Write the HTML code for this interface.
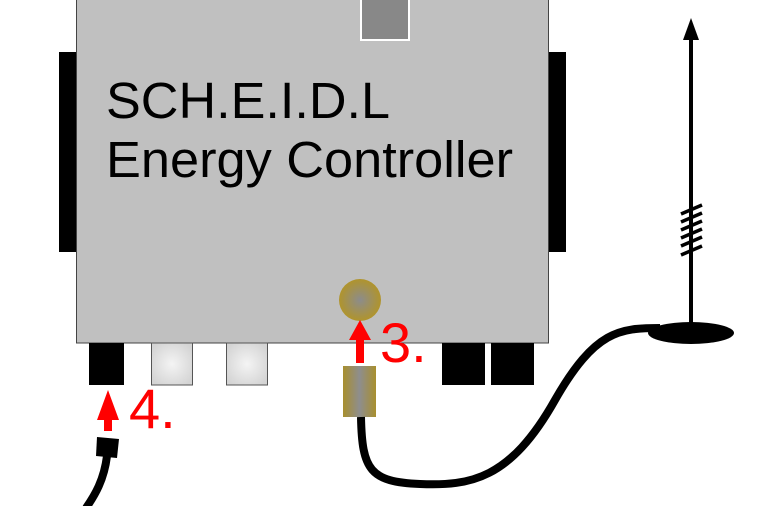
<!DOCTYPE html>
<html><head><meta charset="utf-8"><style>html,body{margin:0;padding:0;background:#fff}svg{display:block}</style></head>
<body>
<svg width="769" height="506" viewBox="0 0 769 506" xmlns="http://www.w3.org/2000/svg">
<defs>
<radialGradient id="sq" cx="50%" cy="50%" r="60%"><stop offset="0" stop-color="#f4f4f4"/><stop offset="1" stop-color="#d4d4d4"/></radialGradient>
<radialGradient id="br" cx="50%" cy="50%" r="50%"><stop offset="0" stop-color="#8c8c8c"/><stop offset="1" stop-color="#b0942c"/></radialGradient>
<linearGradient id="bl" x1="0" x2="1" y1="0" y2="0"><stop offset="0" stop-color="#a88f2e"/><stop offset="0.5" stop-color="#8e8e8e"/><stop offset="1" stop-color="#a88f2e"/></linearGradient>
</defs>
<rect x="59" y="52" width="18" height="200" fill="#000"/>
<rect x="548" y="52" width="18" height="200" fill="#000"/>
<rect x="76.5" y="-2" width="472" height="345" fill="#c0c0c0" stroke="#444" stroke-width="1"/>
<rect x="361" y="-2" width="48" height="42" fill="#888" stroke="#fff" stroke-width="2"/>
<text x="106" y="118" font-family="Liberation Sans, sans-serif" font-size="51" textLength="284" lengthAdjust="spacingAndGlyphs">SCH.E.I.D.L</text>
<text x="106" y="177" font-family="Liberation Sans, sans-serif" font-size="51" textLength="407" lengthAdjust="spacingAndGlyphs">Energy Controller</text>
<circle cx="360" cy="300" r="21" fill="url(#br)"/>
<rect x="89" y="343" width="35" height="42" fill="#000"/>
<rect x="151.5" y="343" width="41" height="42" fill="url(#sq)" stroke="#555" stroke-width="1"/>
<rect x="226.5" y="343" width="41" height="42" fill="url(#sq)" stroke="#555" stroke-width="1"/>
<rect x="442" y="343" width="43" height="42" fill="#000"/>
<rect x="491" y="343" width="43" height="42" fill="#000"/>
<polygon points="360,320 349,340 356,340 356,363 364,363 364,340 371,340" fill="#f00"/>
<text x="380" y="362" font-family="Liberation Sans, sans-serif" font-size="56" fill="#f00">3.</text>
<polygon points="108,390 97,420 104,420 104,431 112,431 112,420 119,420" fill="#f00"/>
<text x="129" y="428" font-family="Liberation Sans, sans-serif" font-size="56" fill="#f00">4.</text>
<rect x="343" y="366" width="33" height="51" fill="url(#bl)"/>
<path d="M361,417 C362,470 370,482 420,484 C470,486 510,480 555,400 C595,330 620,328 660,328" fill="none" stroke="#000" stroke-width="8"/>
<polygon points="97,437 119,439 117,458 96,456" fill="#000"/>
<path d="M107,456 C104,480 95,495 86,508" fill="none" stroke="#000" stroke-width="8"/>
<ellipse cx="691" cy="333" rx="43" ry="11" fill="#000"/>
<line x1="691" y1="38" x2="691" y2="328" stroke="#000" stroke-width="4"/>
<polygon points="691,18 683,40 699,40" fill="#000"/>
<g stroke="#000" stroke-width="3.5">
<line x1="681" y1="214" x2="702" y2="205"/>
<line x1="681" y1="222" x2="702" y2="213"/>
<line x1="681" y1="230" x2="702" y2="221"/>
<line x1="681" y1="238" x2="702" y2="229"/>
<line x1="681" y1="246" x2="702" y2="237"/>
<line x1="681" y1="255" x2="702" y2="246"/>
</g>
</svg>
</body></html>
